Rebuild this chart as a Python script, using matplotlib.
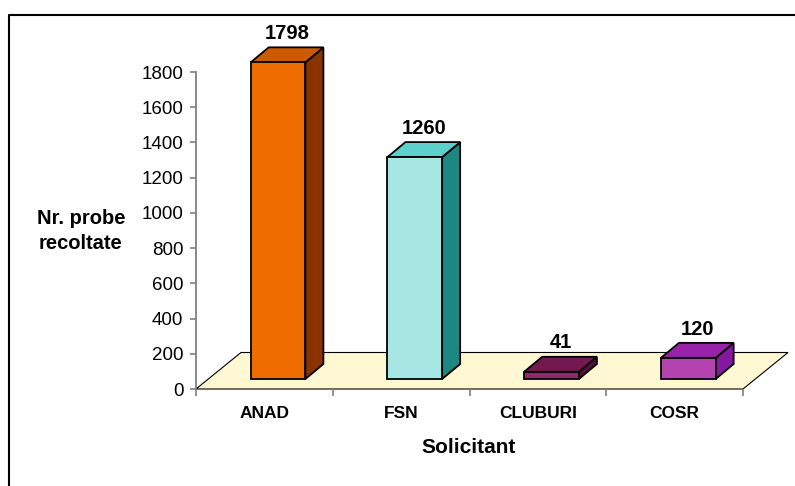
import matplotlib
matplotlib.use("Agg")
import matplotlib.pyplot as plt
from matplotlib.patches import Polygon
from matplotlib.lines import Line2D

plt.rcParams['font.family'] = ['Liberation Sans', 'DejaVu Sans']

# data
categories = ["ANAD", "FSN", "CLUBURI", "COSR"]
values = [1798, 1260, 41, 120]
y_ticks = [0, 200, 400, 600, 800, 1000, 1200, 1400, 1600, 1800]

front_colors = ["#EE6C00", "#A6E7E4", "#8E2A68", "#B443B0"]
top_colors = ["#CC5A00", "#5CD0CB", "#741852", "#9A22A8"]
side_colors = ["#8A3300", "#1D8782", "#5A0E3E", "#8617A0"]

W, H = 795, 486
fig = plt.figure(figsize=(W / 100, H / 100), dpi=100)
# axes box in pixels: x 196..743, y 72 (1800) .. 389 (0)
ax = fig.add_axes([196 / W, 1 - 389 / H, (743 - 196) / W, (389 - 72) / H])
ax.set_xlim(0, len(categories))
ax.set_ylim(0, 1800)

# pixel -> data helpers for the fake 3d depth
cx = len(categories) / (743 - 196)
cy = 1800 / (389 - 72)

# floor
fdx, fdy = 45 * cx, 36.5 * cy
floor = Polygon([(0, 0), (len(categories), 0), (len(categories) + fdx, fdy), (fdx, fdy)],
                closed=True, facecolor="#FFF8D2", edgecolor="black", lw=0.8,
                clip_on=False, zorder=1)
ax.add_patch(floor)

# bars
base = 10 * cy
shift = 0.10
width = 0.40
ddx, ddy = 18 * cx, 15 * cy
xs = [i + 0.5 + shift for i in range(len(categories))]
ax.bar(xs, values, width=width, bottom=base, color=front_colors,
       edgecolor="black", lw=1.3, clip_on=False, zorder=3)
for x, v, tc, sc in zip(xs, values, top_colors, side_colors):
    l, r = x - width / 2, x + width / 2
    t = base + v
    side = Polygon([(r, base), (r + ddx, base + ddy), (r + ddx, t + ddy), (r, t)],
                   closed=True, facecolor=sc, edgecolor="black", lw=1.3,
                   clip_on=False, zorder=2)
    top = Polygon([(l, t), (l + ddx, t + ddy), (r + ddx, t + ddy), (r, t)],
                  closed=True, facecolor=tc, edgecolor="black", lw=1.3,
                  clip_on=False, zorder=2)
    ax.add_patch(side)
    ax.add_patch(top)
    ax.annotate(str(v), (x + ddx / 2, t + ddy), xytext=(0, 6),
                textcoords="offset points", ha="center", va="baseline",
                fontsize=14.5, fontweight="bold", annotation_clip=False)

# axes styling
for s in ["top", "right", "bottom"]:
    ax.spines[s].set_visible(False)
ax.spines["left"].set_color("#808080")
ax.spines["left"].set_linewidth(1.3)
ax.set_yticks(y_ticks)
ax.tick_params(axis="y", direction="out", length=4, width=1.2, color="#808080",
               pad=5, labelsize=13.5)
ax.set_xticks(range(len(categories) + 1))
ax.set_xticklabels([])
ax.tick_params(axis="x", which="major", direction="out", length=5, width=1.2,
               color="#808080")
ax.set_xticks([i + 0.5 for i in range(len(categories))], minor=True)
ax.set_xticklabels(categories, minor=True, fontsize=12.5, fontweight="bold")
ax.tick_params(axis="x", which="minor", length=0, pad=12)
ax.patch.set_alpha(0)

fig.text(469 / W, 1 - 447 / H, "Solicitant", ha="center", va="center",
         fontsize=15, fontweight="bold")
fig.text(81 / W, 1 - 231 / H, "Nr. probe\nrecoltate", ha="center", va="center",
         fontsize=14.5, fontweight="bold", linespacing=1.35)

# outer frame (right and bottom fall outside the picture)
fig.add_artist(Line2D([9 / W, 9 / W, 1.0], [0.0, 1 - 15 / H, 1 - 15 / H],
                      transform=fig.transFigure, color="black", lw=1.5))

fig.savefig("out.png", dpi=100)
